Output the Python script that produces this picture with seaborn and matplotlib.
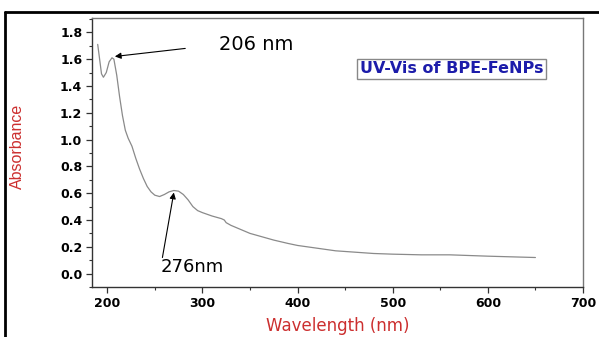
import matplotlib
matplotlib.use("Agg")
import matplotlib.pyplot as plt
import seaborn as sns
import pandas as pd
from matplotlib.lines import Line2D
from matplotlib.ticker import MultipleLocator

wavelength = [190, 192, 194, 196, 199, 202, 205, 207, 210, 213, 216, 219, 222, 226,
              230, 234, 238, 242, 246, 250, 255, 260, 265, 270, 275, 280, 285, 290,
              295, 300, 310, 320, 323, 325, 330, 340, 350, 360, 375, 390, 400, 420,
              440, 460, 480, 500, 530, 560, 580, 600, 625, 650]
absorbance = [1.71, 1.60, 1.49, 1.465, 1.50, 1.58, 1.61, 1.60, 1.48, 1.32, 1.18, 1.07,
              1.01, 0.95, 0.86, 0.78, 0.71, 0.65, 0.61, 0.585, 0.575, 0.59, 0.61, 0.62,
              0.615, 0.59, 0.55, 0.50, 0.47, 0.455, 0.43, 0.41, 0.40, 0.38, 0.36, 0.33,
              0.30, 0.28, 0.25, 0.225, 0.21, 0.19, 0.17, 0.16, 0.15, 0.145, 0.14, 0.14,
              0.135, 0.13, 0.125, 0.12]

x_ticks = [200, 300, 400, 500, 600, 700]
y_ticks = [0.0, 0.2, 0.4, 0.6, 0.8, 1.0, 1.2, 1.4, 1.6, 1.8]
peak_labels = ["206 nm", "276nm"]
title_text = "UV-Vis of BPE-FeNPs"

df = pd.DataFrame({"Wavelength": wavelength, "Absorbance": absorbance})

sns.set_theme(style="white")
plt.rcParams["font.family"] = ["DejaVu Sans"]

fig = plt.figure(figsize=(5.99, 3.37), dpi=100)
ax = fig.add_axes([92 / 599, 1 - 287 / 337, (583 - 92) / 599, (287 - 18) / 337])

sns.lineplot(data=df, x="Wavelength", y="Absorbance", ax=ax, color="#8a8a8a",
             linewidth=0.9)

ax.set_xlim(184, 700)
ax.set_ylim(-0.1, 1.907)
ax.set_xticks(x_ticks)
ax.set_yticks(y_ticks)
ax.set_xticklabels([str(t) for t in x_ticks], fontweight="bold", fontsize=9)
ax.set_yticklabels([f"{t:.1f}" for t in y_ticks], fontweight="bold", fontsize=9)
ax.xaxis.set_minor_locator(MultipleLocator(50))
ax.yaxis.set_minor_locator(MultipleLocator(0.1))
ax.tick_params(which="major", direction="out", length=4, width=0.9, color="#333333",
               bottom=True, left=True, pad=3, labelcolor="black")
ax.tick_params(which="minor", direction="out", length=2, width=0.8, color="#333333",
               bottom=True, left=True)
for name, sp in ax.spines.items():
    sp.set_visible(True)
    sp.set_linewidth(1.0)
    sp.set_color("#333333" if name in ("left", "bottom") else "#777777")

ax.set_xlabel("Wavelength (nm)", color="#cc2f2f", fontsize=12, labelpad=5)
ax.set_ylabel("Absorbance", color="#cc2f2f", fontsize=11.5,
              fontfamily="Liberation Sans")
ax.yaxis.set_label_coords(-0.136, 0.522)

ax.annotate("", xy=(208, 1.62), xytext=(282, 1.68),
            arrowprops=dict(arrowstyle="-|>", color="black", lw=0.8,
                            mutation_scale=9, shrinkA=0, shrinkB=0))
ax.text(317, 1.667, peak_labels[0], fontsize=14, color="black", va="baseline")

ax.annotate("", xy=(270, 0.605), xytext=(258, 0.12),
            arrowprops=dict(arrowstyle="-|>", color="black", lw=0.8,
                            mutation_scale=9, shrinkA=0, shrinkB=0))
ax.text(256, 0.012, peak_labels[1], fontsize=13, color="black", va="baseline")

ax.text(0.732, 0.811, title_text, transform=ax.transAxes, ha="center", va="center",
        fontsize=11.5, fontweight="bold", color="#1c1caa",
        bbox=dict(boxstyle="square,pad=0.15", facecolor="white", edgecolor="#888888",
                  linewidth=1.0))

fig.add_artist(Line2D([5 / 599, 1], [1 - 11.5 / 337, 1 - 11.5 / 337],
                      transform=fig.transFigure, color="black", linewidth=2))
fig.add_artist(Line2D([5 / 599, 5 / 599], [0, 1 - 11.5 / 337],
                      transform=fig.transFigure, color="black", linewidth=2))

fig.savefig("out.png", dpi=100)
